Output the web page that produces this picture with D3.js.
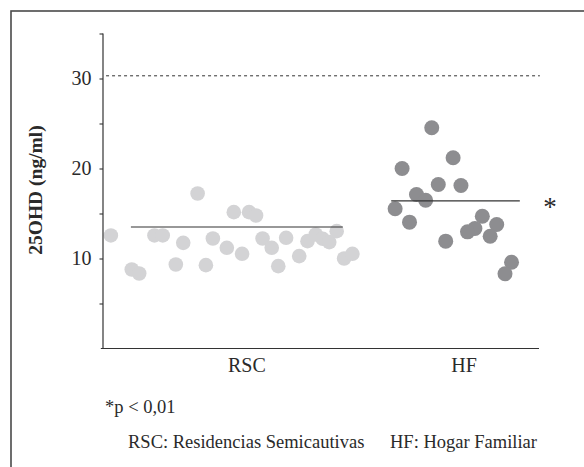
<!DOCTYPE html>
<html>
<head>
<meta charset="utf-8">
<script src="https://cdn.jsdelivr.net/npm/d3@7"></script>
<style>
  html, body { margin: 0; padding: 0; background: #fff; }
  svg { display: block; }
  text { font-family: "Liberation Serif", "Times New Roman", serif; fill: #2a2a2a; }
</style>
</head>
<body>
<svg id="chart" width="584" height="467"></svg>
<script>
// ---- data ----
const categories = ["RSC", "HF"];
const categoryPos = [33, 82.8];            // position of category labels along x (0-100 units)
const rscValues = [12.56, 8.78, 8.33, 12.56, 12.56, 9.33, 11.74, 17.22, 9.26, 12.22, 11.19, 15.15, 10.52, 15.15, 14.78, 12.22, 11.19, 9.15, 12.3, 10.26, 11.93, 12.67, 12.19, 11.82, 13.04, 10.0, 10.52];
const rscPos    = [1.8, 6.6, 8.3, 11.8, 13.7, 16.7, 18.4, 21.7, 23.6, 25.2, 28.4, 30.0, 31.9, 33.5, 35.1, 36.6, 38.7, 40.2, 42.0, 45.0, 46.9, 48.8, 50.4, 51.9, 53.6, 55.3, 57.2];
const hfValues  = [24.52, 21.19, 20.0, 18.22, 18.11, 17.11, 16.48, 15.52, 14.04, 14.7, 13.78, 13.33, 12.96, 12.48, 11.93, 9.59, 8.3];
const hfPos     = [75.4, 80.3, 68.6, 76.9, 82.1, 71.9, 74.0, 67.0, 70.3, 87.0, 90.3, 85.3, 83.6, 88.8, 78.6, 93.7, 92.2];
const meanValues = [13.5, 16.4];
const meanExtent = [[6.4, 55.0], [66.1, 95.6]];
const refValue = 30.3;
const yTicks = [5, 10, 15, 20, 25, 30, 35];
const yTickLabels = [10, 20, 30];

// ---- layout ----
const svg = d3.select("#chart");
const axisX = 103, plotRight = 539;
const y = d3.scaleLinear().domain([0, 35]).range([348.5, 33.5]);
const x = d3.scaleLinear().domain([0, 100]).range([axisX, plotRight]);

// frame
svg.append("rect")
  .attr("x", 11).attr("y", 11).attr("width", 640).attr("height", 520)
  .attr("fill", "none").attr("stroke", "#4a4a4a").attr("stroke-width", 1.6);

// reference dashed line
svg.append("line")
  .attr("x1", x(0.7)).attr("x2", x(100.2))
  .attr("y1", y(refValue)).attr("y2", y(refValue))
  .attr("stroke", "#333").attr("stroke-width", 1).attr("stroke-dasharray", "3,3");

// points
const rsc = rscValues.map((v, i) => ({ v, p: rscPos[i] }));
const hf = hfValues.map((v, i) => ({ v, p: hfPos[i] }));

svg.append("g").selectAll("circle").data(rsc).join("circle")
  .attr("cx", d => x(d.p)).attr("cy", d => y(d.v)).attr("r", 7.3)
  .attr("fill", "#d3d3d5");

svg.append("g").selectAll("circle").data(hf).join("circle")
  .attr("cx", d => x(d.p)).attr("cy", d => y(d.v)).attr("r", 7.5)
  .attr("fill", "#8d8d90");

// mean lines
svg.append("g").selectAll("line").data(meanValues).join("line")
  .attr("x1", (d, i) => x(meanExtent[i][0])).attr("x2", (d, i) => x(meanExtent[i][1]))
  .attr("y1", d => y(d)).attr("y2", d => y(d))
  .attr("stroke", "#333").attr("stroke-width", 1.2);

// y axis
const yAxis = d3.axisLeft(y)
  .tickValues(yTicks)
  .tickSize(3.5)
  .tickSizeOuter(0)
  .tickPadding(8)
  .tickFormat(d => yTickLabels.includes(d) ? d : "");
const gy = svg.append("g").attr("transform", `translate(${axisX},0)`).call(yAxis);
gy.select(".domain").remove();
gy.append("line").attr("x1", 0).attr("x2", 0).attr("y1", y(35)).attr("y2", y(0))
  .attr("stroke", "#333").attr("stroke-width", 1.2);
gy.selectAll(".tick line").attr("stroke", "#333").attr("stroke-width", 1.1);
gy.selectAll(".tick text")
  .style("font-family", '"Liberation Serif", "Times New Roman", serif')
  .style("font-size", "20px").attr("fill", "#2a2a2a");

// x axis
const xCat = d3.scaleOrdinal().domain(categories).range(categoryPos.map(p => x(p)));
const gx = svg.append("g");
gx.append("line").attr("x1", x(-0.5)).attr("x2", plotRight).attr("y1", y(0)).attr("y2", y(0))
  .attr("stroke", "#333").attr("stroke-width", 1.2);
gx.selectAll("text.cat").data(categories).join("text")
  .attr("class", "cat")
  .attr("x", d => xCat(d)).attr("y", 372)
  .attr("text-anchor", "middle")
  .style("font-size", "20px")
  .text(d => d);

// y label
svg.append("text")
  .attr("transform", "translate(42,190) rotate(-90)")
  .attr("text-anchor", "middle")
  .style("font-size", "19.5px").style("font-weight", "bold")
  .text("25OHD (ng/ml)");

// significance asterisk
svg.append("text")
  .attr("x", 550).attr("y", 216)
  .attr("text-anchor", "middle")
  .style("font-size", "27px")
  .text("*");

// notes
svg.append("text").attr("x", 105).attr("y", 413)
  .style("font-size", "18.5px").text("*p < 0,01");
svg.append("text").attr("x", 128).attr("y", 448)
  .style("font-size", "18.5px").text("RSC: Residencias Semicautivas");
svg.append("text").attr("x", 390).attr("y", 448)
  .style("font-size", "18.5px").text("HF: Hogar Familiar");
</script>
</body>
</html>
